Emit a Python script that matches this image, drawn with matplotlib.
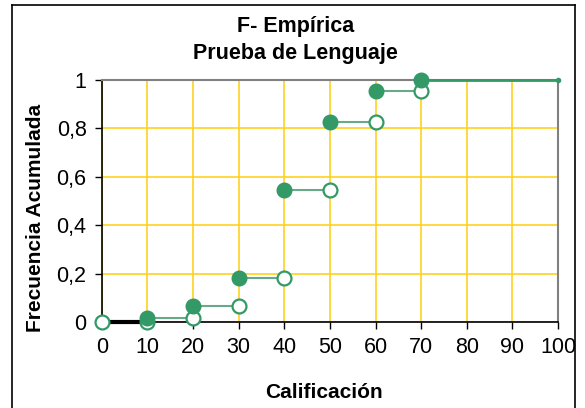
import matplotlib.pyplot as plt
from matplotlib.lines import Line2D

# datos: calificacion y frecuencia acumulada
scores = [0, 10, 20, 30, 40, 50, 60, 70]
cum = [0, 0.017, 0.066, 0.18, 0.545, 0.826, 0.955, 1.0]
xticks = list(range(0, 101, 10))
yticks = [0, 0.2, 0.4, 0.6, 0.8, 1]
ylabels = ['0', '0,2', '0,4', '0,6', '0,8', '1']

green = '#339966'
gold = '#FFD21F'

plt.rcParams['font.family'] = ['Liberation Sans', 'DejaVu Sans']

fig = plt.figure(figsize=(5.85, 4.08), dpi=100)
ax = fig.add_axes([0.174, 0.211, 0.78, 0.593])

# escalones
ax.plot([scores[0], scores[1]], [0, 0], color='black', lw=3, zorder=3, clip_on=False)
for i in range(1, len(scores) - 1):
    ax.plot([scores[i], scores[i + 1]], [cum[i], cum[i]], color='#66aa88', lw=1.5, zorder=2)
ax.plot([scores[-1], 100], [cum[-1], cum[-1]], color=green, lw=2, zorder=3, clip_on=False)
ax.plot([100], [cum[-1]], 'o', color=green, ms=3, zorder=3, clip_on=False)

open_y = [0] + cum[:-1]
ax.plot(scores, open_y, 'o', ms=10, mfc='white', mec=green, mew=1.6, zorder=4, clip_on=False)
ax.plot(scores[1:], cum[1:], 'o', ms=10.5, color=green, zorder=5, clip_on=False)

ax.set_xlim(0, 100)
ax.set_ylim(0, 1)
ax.set_xticks(xticks)
ax.set_yticks(yticks)
ax.set_yticklabels(ylabels)
ax.grid(True, color=gold, lw=1.2, zorder=0)
ax.set_axisbelow(True)
ax.tick_params(labelsize=15.5, length=5, width=1, pad=6, direction='out')

for s in ['top', 'right']:
    ax.spines[s].set_color('#808080')
    ax.spines[s].set_linewidth(1.5)
for s in ['left', 'bottom']:
    ax.spines[s].set_color('black')
    ax.spines[s].set_linewidth(1.2)

fig.text(0.553, 0.039, 'Calificación', ha='center', va='center', fontsize=15, fontweight='bold')
fig.text(0.06, 0.465, 'Frecuencia Acumulada', ha='center', va='center', rotation=90,
         fontsize=15, fontweight='bold')
fig.text(0.505, 0.936, 'F- Empírica', ha='center', va='center', fontsize=15.5, fontweight='bold')
fig.text(0.505, 0.870, 'Prueba de Lenguaje', ha='center', va='center', fontsize=15.5, fontweight='bold')

# marco exterior
for xs, ys in [([0.021, 0.021], [0, 0.988]), ([0.021, 0.983], [0.988, 0.988]), ([0.983, 0.983], [0, 0.988])]:
    fig.add_artist(Line2D(xs, ys, color='black', lw=1.2, transform=fig.transFigure))

fig.savefig('out.png', dpi=100)
